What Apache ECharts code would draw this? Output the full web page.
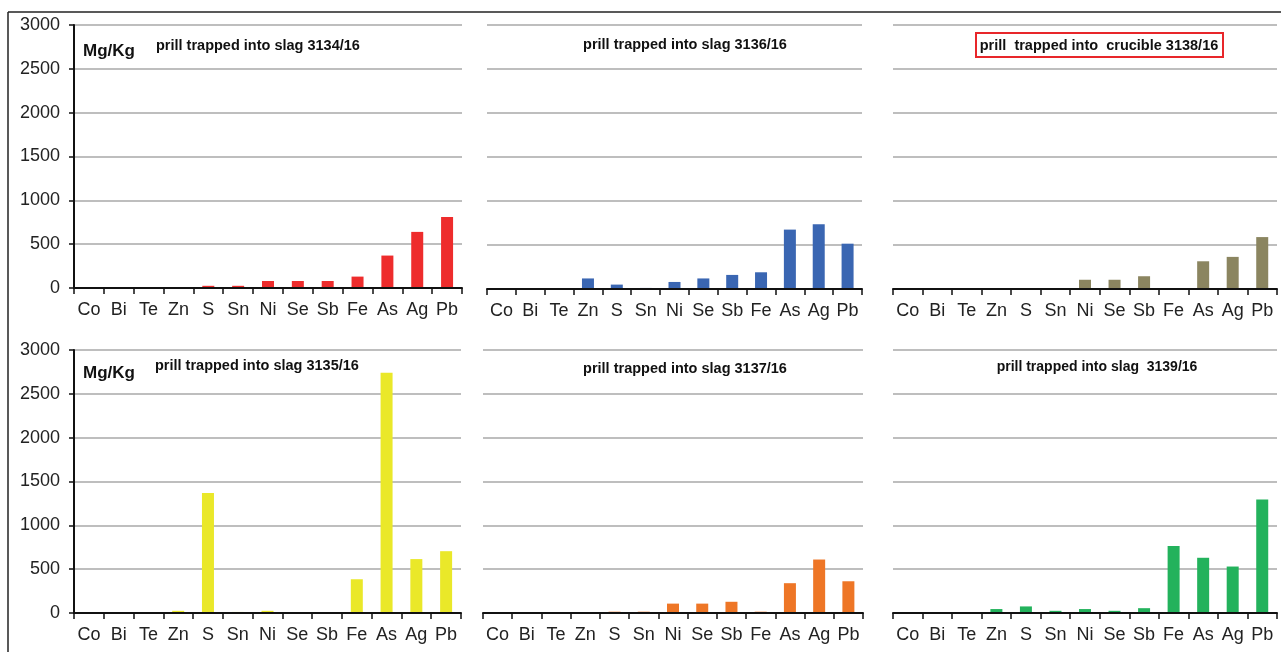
<!DOCTYPE html>
<html>
<head>
<meta charset="utf-8">
<script src="https://cdn.jsdelivr.net/npm/echarts@6/dist/echarts.min.js"></script>
<style>
  html, body { margin: 0; padding: 0; background: #fff; }
  #chart { width: 1281px; height: 652px; }
</style>
</head>
<body>
<div id="chart"></div>
<script>
// Elements measured in each prill (mg/kg)
const elements = ['Co', 'Bi', 'Te', 'Zn', 'S', 'Sn', 'Ni', 'Se', 'Sb', 'Fe', 'As', 'Ag', 'Pb'];
const slag3134 = [0, 0, 0, 0, 25, 25, 80, 80, 80, 130, 370, 640, 810];
const slag3136 = [0, 0, 0, 120, 50, 12, 80, 120, 160, 190, 675, 735, 515];
const crucible3138 = [0, 0, 0, 10, 10, 10, 105, 105, 145, 10, 315, 365, 590];
const slag3135 = [0, 0, 0, 25, 1370, 12, 25, 0, 0, 385, 2740, 615, 705];
const slag3137 = [0, 0, 0, 0, 15, 15, 107, 107, 128, 15, 340, 610, 362];
const slag3139 = [0, 0, 0, 45, 75, 25, 45, 25, 55, 765, 630, 530, 1295];
const yTicks = [0, 500, 1000, 1500, 2000, 2500, 3000];

const panels = [
  { data: slag3134, color: '#EE2C2C', grid: { left: 74, top: 25, width: 388, height: 263 }, yLabels: true },
  { data: slag3136, color: '#3A66B2', grid: { left: 487, top: 25, width: 375, height: 264 }, yLabels: false },
  { data: crucible3138, color: '#8B8560', grid: { left: 893, top: 25, width: 384, height: 264 }, yLabels: false },
  { data: slag3135, color: '#EAE829', grid: { left: 74, top: 350, width: 387, height: 263 }, yLabels: true },
  { data: slag3137, color: '#EE7626', grid: { left: 483, top: 350, width: 380, height: 263 }, yLabels: false },
  { data: slag3139, color: '#23B25C', grid: { left: 893, top: 350, width: 384, height: 263 }, yLabels: false }
];

const font = 'Liberation Sans, Arial, sans-serif';

const option = {
  animation: false,
  backgroundColor: '#fff',
  grid: panels.map(p => Object.assign({ containLabel: false }, p.grid)),
  xAxis: panels.map((p, i) => ({
    type: 'category',
    gridIndex: i,
    data: elements,
    boundaryGap: true,
    axisLine: { show: true, lineStyle: { color: '#111', width: 2 } },
    axisTick: { show: true, length: 6, lineStyle: { color: '#111', width: 1.5 } },
    axisLabel: { fontFamily: font, fontSize: 18, color: '#222', margin: 13, interval: 0 },
    splitLine: { show: false },
    z: 5
  })),
  yAxis: panels.map((p, i) => ({
    type: 'value',
    gridIndex: i,
    min: yTicks[0],
    max: yTicks[yTicks.length - 1],
    interval: 500,
    axisLine: { show: p.yLabels, lineStyle: { color: '#111', width: 2 } },
    axisTick: { show: p.yLabels, length: 5, lineStyle: { color: '#111', width: 1.5 } },
    axisLabel: {
      show: p.yLabels, fontFamily: font, fontSize: 18, color: '#222', margin: 14,
      formatter: v => String(v)
    },
    splitLine: { show: true, lineStyle: { color: '#A8A8A8', width: 1.5 } }
  })),
  series: panels.map((p, i) => ({
    type: 'bar',
    xAxisIndex: i,
    yAxisIndex: i,
    data: p.data,
    barWidth: 12,
    itemStyle: { color: p.color },
    z: 3
  })),
  graphic: [
    // outer frame
    { type: 'line', shape: { x1: 8, y1: 12, x2: 1281, y2: 12 }, style: { stroke: '#222', lineWidth: 1.5 } },
    { type: 'line', shape: { x1: 8, y1: 12, x2: 8, y2: 652 }, style: { stroke: '#222', lineWidth: 1.5 } },
    // unit labels
    { type: 'text', x: 83, y: 51, style: { text: 'Mg/Kg', font: 'bold 17px ' + font, fill: '#111', textVerticalAlign: 'middle' } },
    { type: 'text', x: 83, y: 373, style: { text: 'Mg/Kg', font: 'bold 17px ' + font, fill: '#111', textVerticalAlign: 'middle' } },
    // panel titles
    { type: 'text', x: 156, y: 46, style: { text: 'prill trapped into slag 3134/16', font: 'bold 14.5px ' + font, fill: '#111', textVerticalAlign: 'middle' } },
    { type: 'text', x: 685, y: 45, style: { text: 'prill trapped into slag 3136/16', font: 'bold 14.5px ' + font, fill: '#111', textAlign: 'center', textVerticalAlign: 'middle' } },
    { type: 'rect', shape: { x: 976, y: 33, width: 247, height: 24 }, style: { fill: 'none', stroke: '#E8262A', lineWidth: 2 } },
    { type: 'text', x: 1099, y: 46, style: { text: 'prill  trapped into  crucible 3138/16', font: 'bold 14.5px ' + font, fill: '#111', textAlign: 'center', textVerticalAlign: 'middle' } },
    { type: 'text', x: 155, y: 366, style: { text: 'prill trapped into slag 3135/16', font: 'bold 14.5px ' + font, fill: '#111', textVerticalAlign: 'middle' } },
    { type: 'text', x: 685, y: 369, style: { text: 'prill trapped into slag 3137/16', font: 'bold 14.5px ' + font, fill: '#111', textAlign: 'center', textVerticalAlign: 'middle' } },
    { type: 'text', x: 1097, y: 367, style: { text: 'prill trapped into slag  3139/16', font: 'bold 14px ' + font, fill: '#111', textAlign: 'center', textVerticalAlign: 'middle' } }
  ]
};

const chart = echarts.init(document.getElementById('chart'), null, { renderer: 'canvas' });
chart.setOption(option);
</script>
</body>
</html>
